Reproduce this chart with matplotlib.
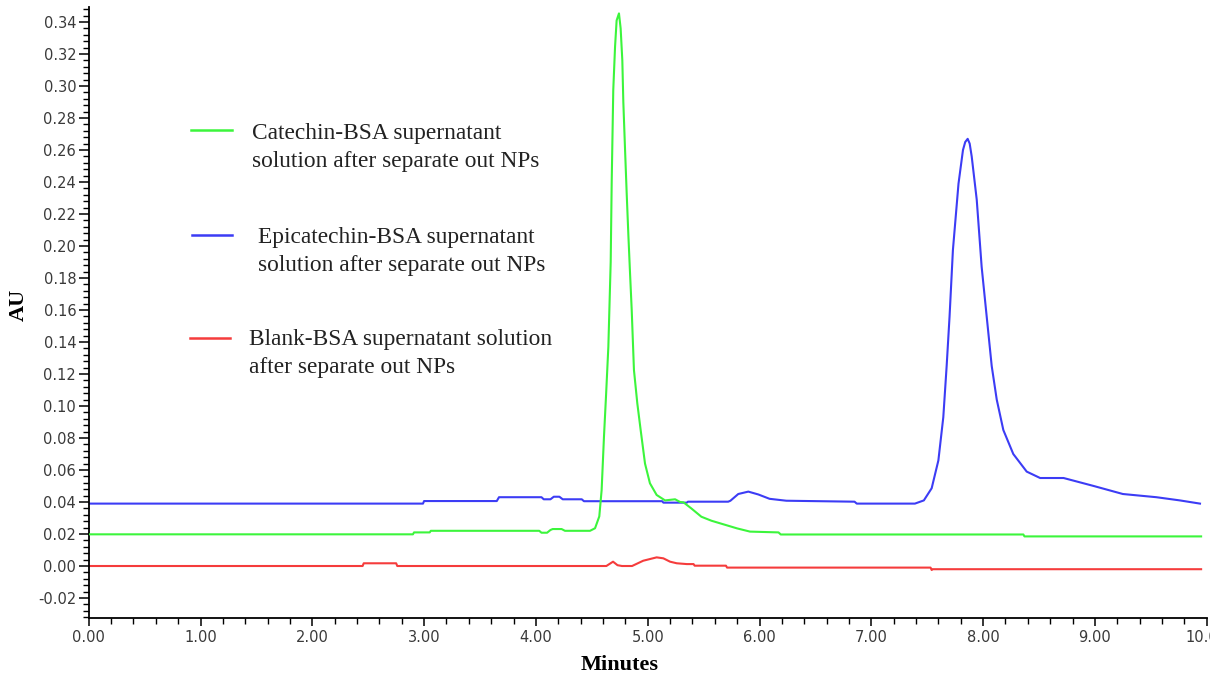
import matplotlib
matplotlib.use("Agg")
import matplotlib.pyplot as plt
from matplotlib.ticker import MultipleLocator, FormatStrFormatter
from matplotlib.lines import Line2D

# ---------------- data ----------------
catechin_t = [0.0, 2.90, 2.91, 3.05, 3.06, 4.03, 4.05, 4.10, 4.13, 4.15, 4.23, 4.26, 4.45,
              4.484, 4.529, 4.567, 4.588, 4.609, 4.627, 4.648, 4.669, 4.678, 4.692, 4.708,
              4.722, 4.743, 4.758, 4.773, 4.782, 4.797, 4.812, 4.827, 4.842, 4.857, 4.877,
              4.907, 4.937, 4.976, 5.02, 5.08, 5.155, 5.245, 5.29, 5.32, 5.39, 5.48, 5.57,
              5.68, 5.80, 5.915, 6.17, 6.19, 8.36, 8.37, 9.95]
catechin_v = [0.0198, 0.0198, 0.021, 0.021, 0.022, 0.022, 0.0208, 0.0208, 0.0225, 0.0231,
              0.0231, 0.022, 0.022, 0.022, 0.0236, 0.031, 0.0475, 0.081, 0.106, 0.137, 0.19,
              0.24, 0.2975, 0.3246, 0.341, 0.3454, 0.336, 0.316, 0.290, 0.261, 0.233, 0.207,
              0.183, 0.16, 0.1225, 0.1017, 0.085, 0.064, 0.0517, 0.0444, 0.041, 0.0417, 0.040,
              0.0398, 0.036, 0.0308, 0.0283, 0.026, 0.0235, 0.0215, 0.021, 0.0197, 0.0197,
              0.0185, 0.0185]

epicatechin_t = [0.0, 2.99, 3.0, 3.65, 3.67, 4.05, 4.07, 4.13, 4.16, 4.21, 4.24, 4.41, 4.43,
                 5.13, 5.14, 5.35, 5.36, 5.72, 5.74, 5.81, 5.90, 5.99, 6.09, 6.24, 6.85, 6.87,
                 7.39, 7.47, 7.54, 7.60, 7.644, 7.674, 7.70, 7.73, 7.78, 7.82, 7.84, 7.862,
                 7.88, 7.898, 7.943, 7.987, 8.032, 8.077, 8.122, 8.181, 8.27, 8.39, 8.51,
                 8.72, 8.99, 9.25, 9.55, 9.76, 9.94]
epicatechin_v = [0.039, 0.039, 0.0406, 0.0406, 0.043, 0.043, 0.0417, 0.0417, 0.0433, 0.0433,
                 0.0417, 0.0417, 0.0405, 0.0405, 0.0396, 0.0396, 0.0402, 0.0402, 0.0408,
                 0.045, 0.0465, 0.0447, 0.042, 0.0408, 0.0402, 0.039, 0.039, 0.041, 0.0486,
                 0.066, 0.093, 0.125, 0.156, 0.1975, 0.239, 0.26, 0.265, 0.267, 0.264, 0.256,
                 0.229, 0.187, 0.156, 0.125, 0.104, 0.085, 0.070, 0.059, 0.055, 0.055, 0.050,
                 0.045, 0.043, 0.041, 0.039]

blank_t = [0.0, 2.45, 2.46, 2.75, 2.76, 4.63, 4.69, 4.73, 4.77, 4.86, 4.96, 5.08, 5.14,
           5.20, 5.26, 5.35, 5.41, 5.42, 5.70, 5.71, 7.53, 7.54, 7.55, 9.95]
blank_v = [0.0, 0.0, 0.0017, 0.0017, 0.0, 0.0, 0.0027, 0.0005, 0.0, 0.0, 0.0033, 0.0054,
           0.0048, 0.0027, 0.0017, 0.0012, 0.0012, 0.0002, 0.0002, -0.001, -0.001, -0.0025,
           -0.002, -0.002]

legend_lines = [
    ["Catechin-BSA supernatant", "solution after separate out NPs"],
    ["Epicatechin-BSA supernatant", "solution after separate out NPs"],
    ["Blank-BSA supernatant solution", "after separate out NPs"],
]

# ---------------- figure ----------------
W, H = 1210, 679
fig = plt.figure(figsize=(W / 100, H / 100), dpi=100)
x0, x1, yb, yt = 88.7, 1206.7, 618, 7
ax = fig.add_axes([x0 / W, 1 - yb / H, (x1 - x0) / W, (yb - yt) / H])

GREEN = "#3cf53c"
BLUE = "#3c3cf5"
RED = "#f53c3c"

ax.plot(catechin_t, catechin_v, color=GREEN, lw=1.5, zorder=3)
ax.plot(epicatechin_t, epicatechin_v, color=BLUE, lw=1.5, zorder=2)
ax.plot(blank_t, blank_v, color=RED, lw=1.5, zorder=2)

ax.set_xlim(0, 10)
ax.set_ylim(-0.0325, 0.3494)

for s in ("top", "right"):
    ax.spines[s].set_visible(False)
for s in ("left", "bottom"):
    ax.spines[s].set_linewidth(1.3)

ax.xaxis.set_major_locator(MultipleLocator(1.0))
ax.xaxis.set_minor_locator(MultipleLocator(0.2))
ax.xaxis.set_major_formatter(FormatStrFormatter("%.2f"))
ax.yaxis.set_minor_locator(MultipleLocator(0.004))
ax.yaxis.set_major_formatter(FormatStrFormatter("%.2f"))
ax.set_yticks([i * 0.02 for i in range(-1, 18)])

ax.tick_params(axis="both", which="major", direction="out", length=7, width=1.1,
               labelsize=10.5, labelcolor="#3a3a3a", pad=2)
ax.tick_params(axis="x", which="major", length=6, pad=3)
ax.tick_params(axis="both", which="minor", direction="out", length=4, width=1.0)
for lab in ax.get_xticklabels() + ax.get_yticklabels():
    lab.set_family("DejaVu Sans")

ax.set_xlabel("Minutes", family="Liberation Serif", weight="bold", fontsize=16)
ax.set_ylabel("AU", family="Liberation Serif", weight="bold", fontsize=16)
ax.xaxis.set_label_coords((620 - x0) / (x1 - x0), (yb - 655) / (yb - yt))
ax.yaxis.set_label_coords((29 - x0) / (x1 - x0), (yb - 305) / (yb - yt))


def ax_pt(px, py):
    return (px - x0) / (x1 - x0), (yb - py) / (yb - yt)


# legend (manual, as in the original figure)
leg_specs = [
    (GREEN, (191, 232, 130), (252, 133, 162)),
    (BLUE, (192, 232, 235), (258, 237, 265)),
    (RED, (190, 230, 338), (249, 339, 368)),
]
for (col, (lx0, lx1, ly), (tx, ty1, ty2)), lines in zip(leg_specs, legend_lines):
    a0 = ax_pt(lx0, ly)
    a1 = ax_pt(lx1, ly)
    ax.add_line(Line2D([a0[0], a1[0]], [a0[1], a1[1]], color=col, lw=1.8,
                       transform=ax.transAxes))
    for text, ty in zip(lines, (ty1, ty2)):
        p = ax_pt(tx, ty)
        ax.text(p[0], p[1], text, transform=ax.transAxes, family="Liberation Serif",
                fontsize=16.8, va="center", ha="left", color="#222222")

fig.savefig("out.png", dpi=100)
